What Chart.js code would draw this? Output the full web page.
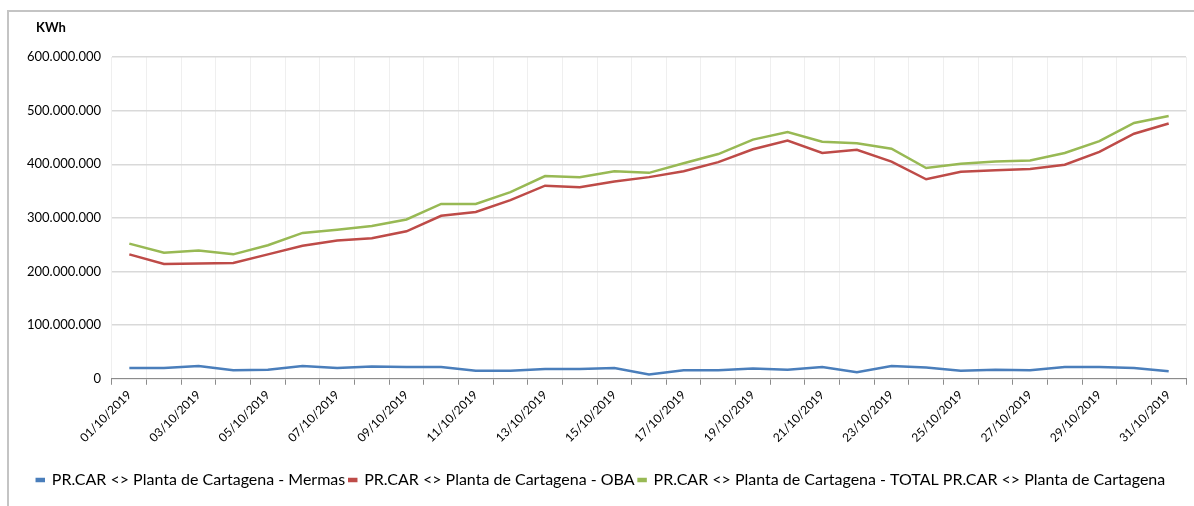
<!DOCTYPE html>
<html>
<head>
<meta charset="utf-8">
<script src="https://cdn.jsdelivr.net/npm/chart.js@4/dist/chart.umd.min.js"></script>
<style>
    html, body { margin: 0; padding: 0; background: #ffffff; }
    #wrap { position: relative; width: 1194px; height: 506px; overflow: hidden; }
    #frame { position: absolute; left: 7px; top: 10px; width: 1200px; height: 520px;
             border-left: 2px solid #c4c4c4; border-top: 2px solid #c4c4c4; }
    canvas { position: absolute; left: 0; top: 0; }
</style>
</head>
<body>
<div id="wrap">
    <div id="frame"></div>
    <canvas id="myLineChart" width="1194" height="506"></canvas>
</div>
<script>
const days = [
    '01/10/2019', '02/10/2019', '03/10/2019', '04/10/2019', '05/10/2019', '06/10/2019',
    '07/10/2019', '08/10/2019', '09/10/2019', '10/10/2019', '11/10/2019', '12/10/2019',
    '13/10/2019', '14/10/2019', '15/10/2019', '16/10/2019', '17/10/2019', '18/10/2019',
    '19/10/2019', '20/10/2019', '21/10/2019', '22/10/2019', '23/10/2019', '24/10/2019',
    '25/10/2019', '26/10/2019', '27/10/2019', '28/10/2019', '29/10/2019', '30/10/2019',
    '31/10/2019'
];

// values in kWh
const mermas = [
    20e6, 20e6, 24e6, 16e6, 17e6, 24e6, 20e6, 23e6, 22e6, 22e6, 15e6,
    15e6, 18e6, 18e6, 20e6, 8e6, 16e6, 16e6, 19e6, 17e6, 22e6, 12e6,
    24e6, 21e6, 15e6, 17e6, 16e6, 22e6, 22e6, 20e6, 14e6
];
const oba = [
    232e6, 214e6, 215e6, 216e6, 232e6, 248e6, 258e6, 262e6, 275e6, 304e6, 311e6,
    333e6, 360e6, 357e6, 368e6, 376e6, 387e6, 404e6, 428e6, 444e6, 421e6, 427e6,
    405e6, 372e6, 386e6, 389e6, 391e6, 399e6, 423e6, 457e6, 476e6
];
const total = [
    252e6, 235e6, 239e6, 232e6, 249e6, 272e6, 278e6, 285e6, 297e6, 326e6, 326e6,
    348e6, 378e6, 376e6, 387e6, 384e6, 402e6, 419e6, 446e6, 460e6, 442e6, 439e6,
    429e6, 393e6, 401e6, 405e6, 407e6, 421e6, 443e6, 477e6, 490e6
];
const seriesNames = [
    'PR.CAR <> Planta de Cartagena - Mermas',
    'PR.CAR <> Planta de Cartagena - OBA',
    'PR.CAR <> Planta de Cartagena - TOTAL PR.CAR <> Planta de Cartagena'
];
const yTicks = [0, 100e6, 200e6, 300e6, 400e6, 500e6, 600e6];

const fmt = v => String(Math.round(v)).replace(/\B(?=(\d{3})+(?!\d))/g, '.');

const unitLabel = {
    id: 'unitLabel',
    afterDraw(chart) {
        const ctx = chart.ctx;
        ctx.save();
        ctx.font = 'bold 13px Lato';
        ctx.fillStyle = '#000000';
        ctx.textBaseline = 'middle';
        ctx.fillText('KWh', 36, 28);
        ctx.restore();
    }
};

const mkSet = (label, data, color) => ({
    label: label,
    data: data,
    borderColor: color,
    backgroundColor: color,
    borderWidth: 2.5,
    pointRadius: 0,
    tension: 0,
    fill: false
});

const renderChart = () => {
    var ctx = document.getElementById('myLineChart').getContext('2d');
    new Chart(ctx, {
        type: 'line',
        data: {
            labels: days,
            datasets: [
                mkSet(seriesNames[0], mermas, '#4a7ebb'),
                mkSet(seriesNames[1], oba, '#be4b48'),
                mkSet(seriesNames[2], total, '#98b954')
            ]
        },
        options: {
            responsive: false,
            animation: false,
            layout: { padding: { left: 16, right: 8, top: 57, bottom: 8 } },
            plugins: {
                title: { display: false },
                tooltip: { enabled: false },
                legend: {
                    position: 'bottom',
                    labels: {
                        boxWidth: 7,
                        boxHeight: 2,
                        padding: 4,
                        color: '#000000',
                        font: { family: 'Lato', size: 16 }
                    }
                }
            },
            scales: {
                x: {
                    offset: true,
                    afterFit: s => { s.height += 20; },
                    grid: {
                        offset: true,
                        color: '#efefef',
                        tickColor: '#8c8c8c',
                        tickLength: 6,
                        drawTicks: true
                    },
                    border: { color: '#8c8c8c', width: 1 },
                    ticks: {
                        autoSkip: false,
                        maxRotation: 45,
                        minRotation: 45,
                        color: '#000000',
                        font: { family: 'Lato', size: 12 },
                        callback: function (val, i) {
                            return i % 2 === 0 ? this.getLabelForValue(val) : '';
                        }
                    }
                },
                y: {
                    min: 0,
                    max: 600e6,
                    afterBuildTicks: axis => { axis.ticks = yTicks.map(v => ({ value: v })); },
                    grid: { color: '#d9d9d9', lineWidth: 1.5, drawTicks: false },
                    border: { display: false },
                    ticks: {
                        padding: 11,
                        color: '#000000',
                        font: { family: 'Lato', size: 13 },
                        callback: v => fmt(v)
                    }
                }
            }
        },
        plugins: [unitLabel]
    });
};

document.addEventListener('DOMContentLoaded', renderChart);
</script>
</body>
</html>
